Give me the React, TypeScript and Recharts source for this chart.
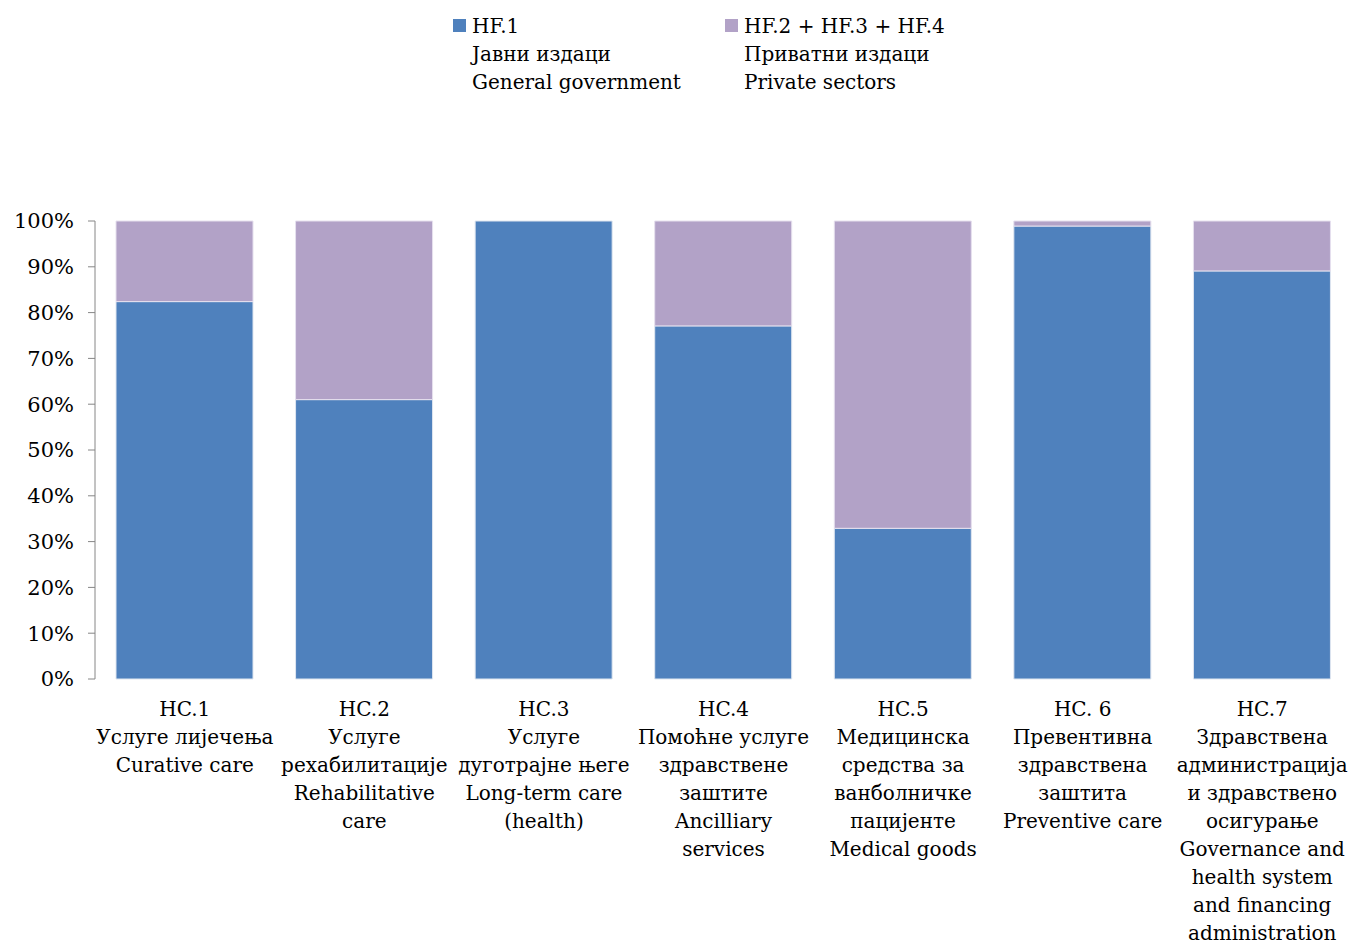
import { BarChart, Bar, XAxis, YAxis, Legend } from 'recharts';

const BLUE = '#4F81BD';
const PURPLE = '#B2A2C7';
const FONT = '"DejaVu Serif", serif';
const FS = 20;

const categories = ['HC.1', 'HC.2', 'HC.3', 'HC.4', 'HC.5', 'HC.6', 'HC.7'];
const categoryLines = [
  ['HC.1', 'Услуге лијечења', 'Curative care'],
  ['HC.2', 'Услуге', 'рехабилитације', 'Rehabilitative', 'care'],
  ['HC.3', 'Услуге', 'дуготрајне његе', 'Long-term care', '(health)'],
  ['HC.4', 'Помоћне услуге', 'здравствене', 'заштите', 'Ancilliary', 'services'],
  ['HC.5', 'Медицинска', 'средства за', 'ванболничке', 'пацијенте', 'Medical goods'],
  ['HC. 6', 'Превентивна', 'здравствена', 'заштита', 'Preventive care'],
  ['HC.7', 'Здравствена', 'администрација', 'и здравствено', 'осигурање', 'Governance and', 'health system', 'and financing', 'administration'],
];
const publicShare = [82.4, 61, 100, 77.1, 32.9, 98.9, 89.1];
const privateShare = [17.6, 39, 0, 22.9, 67.1, 1.1, 10.9];
const yTicks = [0, 10, 20, 30, 40, 50, 60, 70, 80, 90, 100];
const legendLines = [
  ['HF.1', 'Јавни издаци', 'General government'],
  ['HF.2 + HF.3 + HF.4', 'Приватни издаци', 'Private sectors'],
];

const data = categories.map((c, i) => ({
  name: c,
  pub: publicShare[i],
  priv: privateShare[i],
}));

function CategoryTick({ x, y, payload }: any) {
  const lines = categoryLines[payload.index] || [payload.value];
  return (
    <text x={x} y={y} textAnchor="middle" fontFamily={FONT} fontSize={FS} fill="#000">
      {lines.map((l, i) => (
        <tspan key={i} x={x} dy={i === 0 ? 37 : 28}>{l}</tspan>
      ))}
    </text>
  );
}

function LegendBox() {
  const colors = [BLUE, PURPLE];
  return (
    <div style={{ display: 'flex', fontFamily: FONT, fontSize: FS, lineHeight: '28px', color: '#000' }}>
      {legendLines.map((lines, i) => (
        <div key={i} style={{ display: 'flex', alignItems: 'flex-start', width: 272 }}>
          <span style={{ width: 13, height: 13, background: colors[i], marginTop: 7, marginRight: 6, flex: 'none' }} />
          <div>
            {lines.map((l, j) => <div key={j}>{l}</div>)}
          </div>
        </div>
      ))}
    </div>
  );
}

export default function App() {
  return (
    <div style={{ position: 'absolute', left: 0, top: 0, width: 1354, height: 944, background: '#fff' }}>
      <BarChart width={1354} height={944} data={data} margin={{ top: 137, right: 2, left: 0, bottom: 5 }}>
        <Legend
          layout="vertical"
          align="center"
          verticalAlign="top"
          content={() => <LegendBox />}
          wrapperStyle={{ top: 12, left: 453, width: 560 }}
        />
        <XAxis dataKey="name" axisLine={false} tickLine={false} tickSize={0} tickMargin={0}
          height={260} interval={0} tick={<CategoryTick />} />
        <YAxis domain={[0, 100]} ticks={yTicks} width={95} tickSize={7} tickMargin={14}
          tickFormatter={(v) => `${v}%`} stroke="#868686"
          tick={{ fill: '#000', fontFamily: FONT, fontSize: 21 }} />
        <Bar dataKey="pub" stackId="a" fill={BLUE} stroke="#dfe6f0" strokeWidth={1} barSize={137} isAnimationActive={false} />
        <Bar dataKey="priv" stackId="a" fill={PURPLE} stroke="#e6e0ee" strokeWidth={1} barSize={137} isAnimationActive={false} />
      </BarChart>
    </div>
  );
}
